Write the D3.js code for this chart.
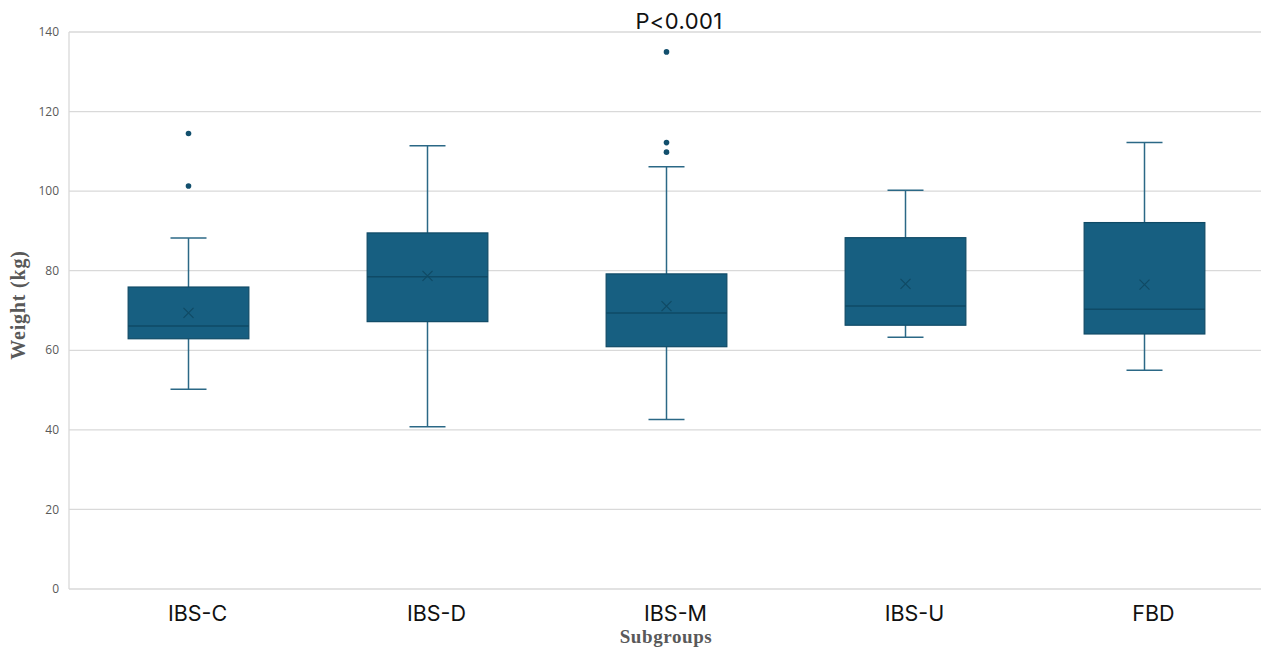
<!DOCTYPE html>
<html>
<head>
<meta charset="utf-8">
<script src="https://cdn.jsdelivr.net/npm/d3@7"></script>
<style>
  html, body { margin: 0; padding: 0; background: #fff; }
  svg { display: block; }
</style>
</head>
<body>
<div id="chart"></div>
<script>
  // box plot values (kg)
  const groups = ["IBS-C", "IBS-D", "IBS-M", "IBS-U", "FBD"];
  const whiskerLow = [50.2, 40.8, 42.6, 63.3, 55.0];
  const q1 = [62.9, 67.2, 60.9, 66.3, 64.1];
  const median = [66.1, 78.5, 69.4, 71.1, 70.3];
  const q3 = [75.9, 89.5, 79.2, 88.3, 92.1];
  const whiskerHigh = [88.2, 111.4, 106.1, 100.2, 112.2];
  const mean = [69.4, 78.7, 71.1, 76.7, 76.5];
  const outliers = [[114.5, 101.3], [], [135.0, 112.2, 109.8], [], []];
  const yTicks = [0, 20, 40, 60, 80, 100, 120, 140];

  (function () {
    const W = 1261, H = 650;
    const plotL = 69, plotR = 1264, plotT = 32, plotB = 589;

    const svg = d3.select("#chart").append("svg").attr("width", W).attr("height", H);

    const x = d3.scaleBand().domain(groups).range([plotL, plotR]).padding(0);
    const y = d3.scaleLinear().domain([0, 140]).range([plotB, plotT]);

    // gridlines
    svg.append("g")
      .selectAll("line")
      .data(yTicks)
      .enter()
      .append("line")
      .attr("x1", plotL)
      .attr("x2", W)
      .attr("y1", function (d) { return y(d); })
      .attr("y2", function (d) { return y(d); })
      .attr("stroke", "#d9d9d9")
      .attr("stroke-width", 1.3);

    // left axis line
    svg.append("line")
      .attr("x1", plotL).attr("x2", plotL)
      .attr("y1", plotT).attr("y2", plotB)
      .attr("stroke", "#d9d9d9")
      .attr("stroke-width", 1.3);

    // y tick labels
    svg.append("g")
      .selectAll("text")
      .data(yTicks)
      .enter()
      .append("text")
      .attr("x", plotL - 10)
      .attr("y", function (d) { return y(d); })
      .attr("dy", "0.35em")
      .attr("text-anchor", "end")
      .attr("font-family", "'Open Sans', sans-serif")
      .attr("font-size", 12)
      .attr("fill", "#595959")
      .text(function (d) { return d; });

    const boxFill = "#175f81";
    const boxStroke = "#0f4a66";
    const lineColor = "#2b6886";
    const boxW = x.bandwidth() * 0.505;
    const capW = 36;

    const g = svg.selectAll(".box")
      .data(groups)
      .enter()
      .append("g")
      .attr("class", "box")
      .attr("transform", function (d) { return "translate(" + (x(d) + x.bandwidth() / 2) + ",0)"; });

    // whiskers
    g.append("line")
      .attr("x1", 0).attr("x2", 0)
      .attr("y1", function (d, i) { return y(whiskerHigh[i]); })
      .attr("y2", function (d, i) { return y(q3[i]); })
      .attr("stroke", lineColor).attr("stroke-width", 1.5);
    g.append("line")
      .attr("x1", 0).attr("x2", 0)
      .attr("y1", function (d, i) { return y(q1[i]); })
      .attr("y2", function (d, i) { return y(whiskerLow[i]); })
      .attr("stroke", lineColor).attr("stroke-width", 1.5);
    g.append("line")
      .attr("x1", -capW / 2).attr("x2", capW / 2)
      .attr("y1", function (d, i) { return y(whiskerHigh[i]); })
      .attr("y2", function (d, i) { return y(whiskerHigh[i]); })
      .attr("stroke", lineColor).attr("stroke-width", 1.5);
    g.append("line")
      .attr("x1", -capW / 2).attr("x2", capW / 2)
      .attr("y1", function (d, i) { return y(whiskerLow[i]); })
      .attr("y2", function (d, i) { return y(whiskerLow[i]); })
      .attr("stroke", lineColor).attr("stroke-width", 1.5);

    // box
    g.append("rect")
      .attr("x", -boxW / 2)
      .attr("width", boxW)
      .attr("y", function (d, i) { return y(q3[i]); })
      .attr("height", function (d, i) { return y(q1[i]) - y(q3[i]); })
      .attr("fill", boxFill)
      .attr("stroke", boxStroke)
      .attr("stroke-width", 1.2);

    // median
    g.append("line")
      .attr("x1", -boxW / 2).attr("x2", boxW / 2)
      .attr("y1", function (d, i) { return y(median[i]); })
      .attr("y2", function (d, i) { return y(median[i]); })
      .attr("stroke", boxStroke).attr("stroke-width", 1.5);

    // mean marker
    g.append("path")
      .attr("transform", function (d, i) { return "translate(0," + y(mean[i]) + ")"; })
      .attr("d", "M-5,-5L5,5M-5,5L5,-5")
      .attr("stroke", "#104a64")
      .attr("stroke-width", 1.2)
      .attr("fill", "none");

    // outliers
    g.each(function (d, i) {
      d3.select(this).selectAll("circle")
        .data(outliers[i])
        .enter()
        .append("circle")
        .attr("cx", 0)
        .attr("cy", function (v) { return y(v); })
        .attr("r", 2.8)
        .attr("fill", "#124f6d");
    });

    // x labels (sit a little right of the box centres in the original)
    svg.append("g")
      .selectAll("text")
      .data(groups)
      .enter()
      .append("text")
      .attr("x", function (d) { return x(d) + x.bandwidth() / 2 + 9; })
      .attr("y", 621)
      .attr("text-anchor", "middle")
      .attr("font-family", "Inter, 'Open Sans', sans-serif")
      .attr("font-size", 21.5)
      .attr("fill", "#111")
      .text(function (d) { return d; });

    // axis titles
    svg.append("text")
      .attr("x", 666)
      .attr("y", 643)
      .attr("text-anchor", "middle")
      .attr("font-family", "'Liberation Serif', 'DejaVu Serif', serif")
      .attr("font-weight", "bold")
      .attr("font-size", 19)
      .attr("letter-spacing", 0.6)
      .attr("fill", "#595959")
      .text("Subgroups");

    svg.append("text")
      .attr("transform", "translate(25,305) rotate(-90)")
      .attr("text-anchor", "middle")
      .attr("font-family", "'Liberation Serif', 'DejaVu Serif', serif")
      .attr("font-weight", "bold")
      .attr("font-size", 20)
      .attr("letter-spacing", 0.8)
      .attr("fill", "#595959")
      .text("Weight (kg)");

    // title
    svg.append("text")
      .attr("x", 679)
      .attr("y", 29)
      .attr("text-anchor", "middle")
      .attr("font-family", "Inter, 'Open Sans', sans-serif")
      .attr("font-size", 22)
      .attr("letter-spacing", 0.4)
      .attr("fill", "#111")
      .text("P<0.001");
  })();
</script>
</body>
</html>
